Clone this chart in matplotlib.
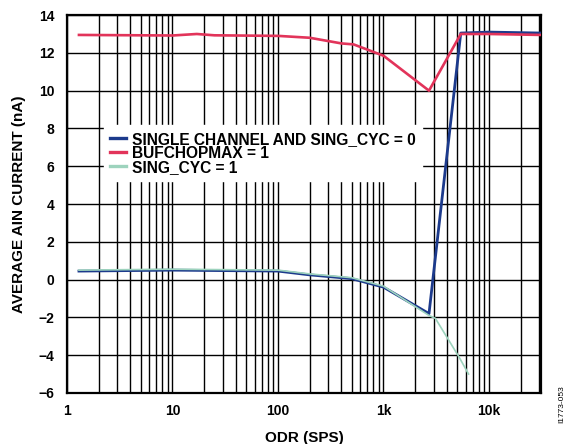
import matplotlib
matplotlib.use('Agg')
import matplotlib.pyplot as plt
from matplotlib.ticker import FixedLocator, LogLocator, NullFormatter

plt.rcParams['font.family'] = ['Liberation Sans', 'DejaVu Sans']
plt.rcParams['font.weight'] = 'bold'

# series
blue_x = [1.3, 10, 100, 200, 500, 1000, 2700, 5400, 10000, 31250]
blue_y = [0.45, 0.5, 0.45, 0.25, 0.05, -0.4, -1.8, 13.05, 13.1, 13.05]

red_x = [1.3, 5, 10, 17, 25, 100, 200, 400, 520, 1000, 2700, 5400, 10000, 31250]
red_y = [12.95, 12.93, 12.92, 13.0, 12.93, 12.9, 12.8, 12.5, 12.45, 11.85, 10.0, 13.0, 13.0, 12.95]

green_x = [1.3, 10, 100, 200, 500, 1000, 2700, 3100, 5200, 6400]
green_y = [0.5, 0.55, 0.5, 0.3, 0.1, -0.35, -1.9, -2.05, -4.1, -5.0]

labels = ['SINGLE CHANNEL AND SING_CYC = 0', 'BUFCHOPMAX = 1', 'SING_CYC = 1']
x_ticks = [1, 10, 100, 1000, 10000]
x_ticklabels = ['1', '10', '100', '1k', '10k']
y_ticks = list(range(-6, 15, 2))

fig = plt.figure(figsize=(5.77, 4.44), dpi=100)
ax = fig.add_axes([0.116, 0.115, 0.822, 0.851])

ax.plot(blue_x, blue_y, color='#1c3a8c', lw=2.0, label=labels[0], zorder=3)
ax.plot(red_x, red_y, color='#e2345a', lw=1.9, label=labels[1], zorder=4)
ax.plot(green_x, green_y, color='#9dd3bd', lw=1.2, label=labels[2], zorder=5)

ax.set_xscale('log')
ax.set_xlim(1, 31250)
ax.set_ylim(-6, 14)
ax.xaxis.set_major_locator(FixedLocator(x_ticks))
ax.set_xticklabels(x_ticklabels)
ax.xaxis.set_minor_locator(LogLocator(base=10, subs=range(2, 10), numticks=20))
ax.xaxis.set_minor_formatter(NullFormatter())
ax.set_yticks(y_ticks)
ax.set_yticklabels([str(v).replace('-', '\u2212') for v in y_ticks])

ax.grid(True, which='both', axis='x', color='black', lw=1.0)
ax.grid(True, which='major', axis='y', color='black', lw=1.0)
ax.set_axisbelow(True)
ax.tick_params(which='both', length=0, labelsize=10)
ax.tick_params(axis='x', pad=8)
ax.tick_params(axis='y', pad=9)
for s in ax.spines.values():
    s.set_linewidth(1.6)

ax.set_xlabel('ODR (SPS)', fontsize=11, fontweight='bold', labelpad=9)
ax.set_ylabel('AVERAGE AIN CURRENT (nA)', fontsize=11, fontweight='bold', labelpad=9)

leg = ax.legend(loc='upper left', bbox_to_anchor=(0.078, 0.708), fontsize=11.2,
                frameon=True, fancybox=False, framealpha=1, edgecolor='white',
                handlelength=1.05, handletextpad=0.33, labelspacing=-0.06,
                borderpad=0.4, borderaxespad=0)
leg.set_zorder(6)
for line in leg.get_lines():
    line.set_linewidth(2.4)

fig.text(0.974, 0.09, 'I1773-053', rotation=90, fontsize=6, fontweight='normal',
         ha='center', va='center')

fig.savefig('out.png', dpi=100)
